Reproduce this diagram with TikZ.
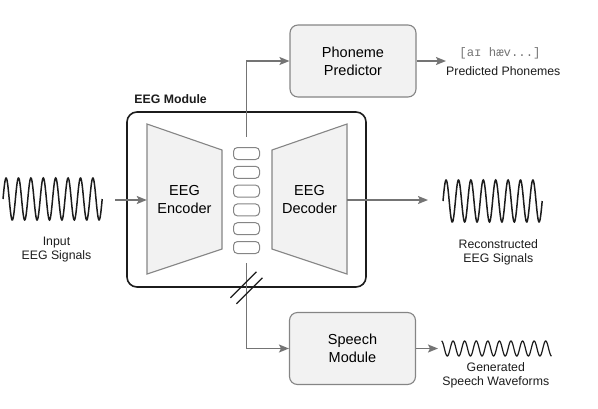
\documentclass[tikz,border=0pt]{standalone}
\usepackage{fontspec}
\setmainfont{Liberation Sans}
\newfontfamily\ipafont{Liberation Mono}
\usepackage{tikz}
\usetikzlibrary{arrows.meta, positioning, calc}

\definecolor{boxfill}{HTML}{F2F2F2}
\definecolor{boxline}{HTML}{858585}
\definecolor{flowgray}{HTML}{747474}
\definecolor{inkblack}{HTML}{1C1C1C}

\begin{document}
\begin{tikzpicture}[
      x=1pt, y=-1pt,
      >={Stealth[length=10pt,width=8pt,inset=2pt]},
      flow/.style = {draw=flowgray, line width=1.5pt, ->},
      block/.style = {
        draw=boxline,
        fill=boxfill,
        line width=1.1pt,
        rounded corners=8pt,
        minimum width=126pt,
        minimum height=72pt,
        align=center,
        font=\fontsize{14.5}{18}\selectfont
      },
      coder/.style = {draw=boxline, fill=boxfill, line width=1.1pt},
      half/.style = {minimum width=75pt, minimum height=150pt, inner sep=0pt,
        align=center, font=\fontsize{14.5}{18}\selectfont},
      latent/.style = {draw=boxline, fill=white, line width=1pt,
        rounded corners=4pt, minimum width=26pt, minimum height=12pt, inner sep=0pt},
      caption/.style = {align=center, inner sep=0pt, text=inkblack,
        font=\fontsize{12.3}{14}\selectfont},
      wave/.style = {draw=inkblack, line width=1.5pt, smooth, samples=240}
    ]
    \useasboundingbox (0,0) rectangle (598,408);

    % EEG module
    \node[draw=inkblack, line width=1.6pt, rounded corners=10pt,
          minimum width=239pt, minimum height=175pt] (eeg) at (246.5,199.5) {};
    \node[anchor=base west, inner sep=0pt, text=inkblack,
          font=\fontsize{12.3}{14}\selectfont\bfseries] (eeglabel)
          at ($(eeg.north west)+(8,-8)$) {EEG Module};

    \draw[coder] (147,124) -- (222,150) -- (222,249) -- (147,274) -- cycle;
    \node[half] (enc) at (184.5,199.5) {EEG\\Encoder};
    \draw[coder] (347,124) -- (272,150) -- (272,249) -- (347,274) -- cycle;
    \node[half] (dec) at (309.5,199.5) {EEG\\Decoder};

    \foreach \i in {0,...,5}
      \node[latent] (z\i) at (246.5,153.5+18.8*\i) {};

    % heads
    \node[block] (phon)   at (353,61)    {Phoneme\\Predictor};
    \node[block] (speech) at (352.5,348.5) {Speech\\Module};

    \coordinate (ztop) at ($(z0.north)+(0,-10.5)$);
    \coordinate (zbot) at ($(z5.south)+(0,9)$);
    \draw[flow] (ztop) |- (phon.west);
    \draw[flow] (zbot) |- (speech.west);

    % cut marks on the speech branch
    \coordinate (cut) at (eeg.south);
    \draw[inkblack, line width=1.3pt] ($(cut)+(-16,10)$) -- ($(cut)+(10,-16)$);
    \draw[inkblack, line width=1.3pt] ($(cut)+(-10,16)$) -- ($(cut)+(16,-10)$);

    % signals in and out
    \coordinate (sigin)  at (115,200);
    \coordinate (recout) at (428,200);
    \draw[flow] (sigin) -- (enc.west |- sigin);
    \draw[flow] (dec.east |- recout) -- (recout);

    \draw[wave] plot[domain=0:99.2] ({3+\x},{199-21*sin(\x/12.4*360)});
    \node[caption] (inlab) at (56.5,249.5) {Input\\EEG Signals};

    \draw[wave] plot[domain=0:99.2] ({443+\x},{201-21*sin(\x/12.4*360)});
    \node[caption] (reclab) at (498.3,252) {Reconstructed\\EEG Signals};

    % phoneme output
    \node[caption, anchor=base west] (phonout) at (446,75) {Predicted Phonemes};
    \node[anchor=base, inner sep=0pt, text=flowgray,
          font=\fontsize{12.3}{14}\ipafont] (ipa) at (500,56.7) {[aɪ hæv...]};
    \draw[flow] (phon.east) -- (phon.east -| phonout.west);

    % speech output
    \coordinate (wavout) at (438,348.5);
    \draw[flow] (speech.east) -- (wavout);
    \draw[wave, line width=1.2pt] plot[domain=0:110] ({441.5+\x},{348.5-7.5*cos(\x/11.58*360)});
    \node[caption] (speechlab) at (495.8,375) {Generated\\Speech Waveforms};

  \end{tikzpicture}
\end{document}
